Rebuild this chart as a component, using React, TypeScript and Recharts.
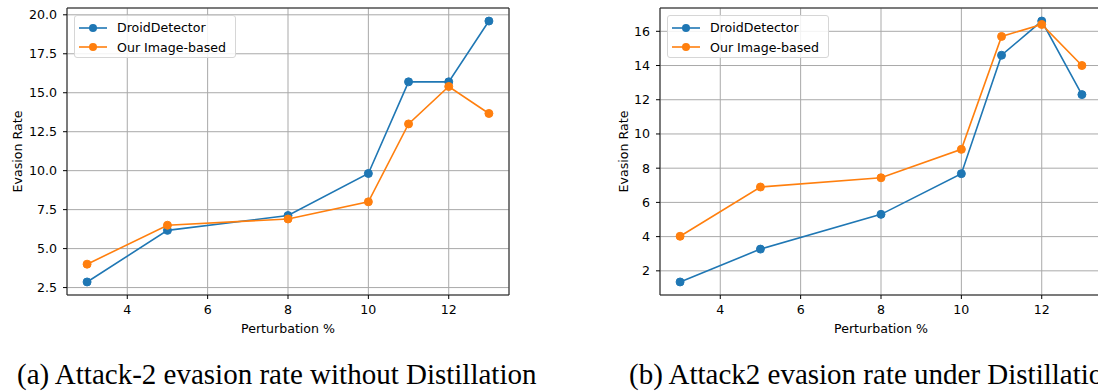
import React from 'react';
import { LineChart, Line, XAxis, YAxis, CartesianGrid, Legend, ReferenceArea, Label } from 'recharts';

// ---- data ----
const perturbation = [3, 5, 8, 10, 11, 12, 13];
const xTicks = [4, 6, 8, 10, 12];

const aDroid = [2.86, 6.17, 7.12, 9.82, 15.7, 15.7, 19.6];
const aOurs = [4.0, 6.5, 6.9, 8.0, 13.0, 15.4, 13.67];
const aYTicks = [2.5, 5.0, 7.5, 10.0, 12.5, 15.0, 17.5, 20.0];

const bDroid = [1.35, 3.27, 5.3, 7.68, 14.6, 16.6, 12.3];
const bOurs = [4.02, 6.9, 7.44, 9.1, 15.7, 16.4, 14.0];
const bYTicks = [2, 4, 6, 8, 10, 12, 14, 16];

const seriesNames = ['DroidDetector', 'Our Image-based'];
const colors = ['#1f77b4', '#ff7f0e'];
const captionA = '(a) Attack-2 evasion rate without Distillation';
const captionB = '(b) Attack2 evasion rate under Distillation';

const FONT = '"DejaVu Sans", sans-serif';
const FS = 12.6;

function padDomain(vals: number[]): [number, number] {
  const mn = Math.min(...vals);
  const mx = Math.max(...vals);
  const m = (mx - mn) * 0.05;
  return [mn - m, mx + m];
}

const LegendBox = (props: any) => {
  const payload = props.payload || [];
  return (
    <div
      style={{
        width: 162,
        height: 43,
        boxSizing: 'border-box',
        border: '1px solid #d6d6d6',
        borderRadius: 3,
        background: 'rgba(255,255,255,0.85)',
        paddingTop: 2,
        fontFamily: FONT,
        fontSize: FS,
        color: '#000',
      }}
    >
      {payload.map((e: any, i: number) => (
        <div key={i} style={{ display: 'flex', alignItems: 'center', height: 19.5, whiteSpace: 'nowrap' }}>
          <svg width={42} height={12} style={{ flex: 'none' }}>
            <line x1={4} x2={32} y1={6} y2={6} stroke={e.color} strokeWidth={1.6} />
            <circle cx={18} cy={6} r={4} fill={e.color} />
          </svg>
          <span>{e.value}</span>
        </div>
      ))}
    </div>
  );
};

type PanelProps = {
  left: number;
  droid: number[];
  ours: number[];
  yTicks: number[];
  yFmt: (v: number) => string;
  yLabelX: number;
};

const W = 530;
const H = 340;
const PLOT_TOP = 8;
const PLOT_BOTTOM = 295;
const YAXIS_W = 67;
const RIGHT_M = 21;

function Panel({ left, droid, ours, yTicks, yFmt, yLabelX }: PanelProps) {
  const data = perturbation.map((x, i) => ({ x, droid: droid[i], ours: ours[i] }));
  const xDomain = padDomain(perturbation);
  const yDomain = padDomain([...droid, ...ours]);
  const plotCx = YAXIS_W + (W - YAXIS_W - RIGHT_M) / 2;
  const plotCy = (PLOT_TOP + PLOT_BOTTOM) / 2;
  return (
    <div style={{ position: 'absolute', left, top: 0, width: W, height: H }}>
      <LineChart width={W} height={H} data={data} margin={{ top: PLOT_TOP, right: RIGHT_M, left: 0, bottom: 0 }}>
        <CartesianGrid stroke="#a9a9a9" strokeWidth={1} />
        <XAxis
          dataKey="x"
          type="number"
          domain={xDomain}
          ticks={xTicks}
          height={H - PLOT_BOTTOM}
          axisLine={false}
          tickLine={{ stroke: '#000' }}
          tickSize={4}
          tickMargin={6}
          tick={{ fill: '#000', fontFamily: FONT, fontSize: FS }}
          allowDataOverflow
        >
          <Label
            content={() => (
              <text x={plotCx} y={328} textAnchor="middle" dominantBaseline="central" fontFamily={FONT} fontSize={FS} fill="#000">
                Perturbation %
              </text>
            )}
          />
        </XAxis>
        <YAxis
          type="number"
          domain={yDomain}
          ticks={yTicks}
          width={YAXIS_W}
          axisLine={false}
          tickLine={{ stroke: '#000' }}
          tickSize={4}
          tickMargin={6}
          tickFormatter={yFmt}
          tick={{ fill: '#000', fontFamily: FONT, fontSize: FS }}
          allowDataOverflow
        >
          <Label
            content={() => (
              <text
                x={yLabelX}
                y={plotCy}
                textAnchor="middle"
                dominantBaseline="central"
                transform={`rotate(-90 ${yLabelX} ${plotCy})`}
                fontFamily={FONT}
                fontSize={FS}
                fill="#000"
              >
                Evasion Rate
              </text>
            )}
          />
        </YAxis>
        <Legend
          layout="vertical"
          align="center"
          verticalAlign="middle"
          width={162}
          height={43}
          wrapperStyle={{ left: YAXIS_W + 7, top: 15 }}
          content={<LegendBox />}
        />
        <Line
          type="linear"
          dataKey="droid"
          name={seriesNames[0]}
          stroke={colors[0]}
          strokeWidth={1.6}
          dot={{ r: 4, fill: colors[0], stroke: colors[0], strokeWidth: 1 }}
          activeDot={false}
          isAnimationActive={false}
        />
        <Line
          type="linear"
          dataKey="ours"
          name={seriesNames[1]}
          stroke={colors[1]}
          strokeWidth={1.6}
          dot={{ r: 4, fill: colors[1], stroke: colors[1], strokeWidth: 1 }}
          activeDot={false}
          isAnimationActive={false}
        />
        <ReferenceArea
          x1={xDomain[0]}
          x2={xDomain[1]}
          y1={yDomain[0]}
          y2={yDomain[1]}
          fill="none"
          fillOpacity={0}
          stroke="#222"
          strokeWidth={1}
          ifOverflow="visible"
        />
      </LineChart>
    </div>
  );
}

export default function App() {
  return (
    <div
      style={{
        position: 'fixed',
        left: 0,
        top: 0,
        width: 1098,
        height: 392,
        overflow: 'hidden',
        background: '#fff',
      }}
    >
      <Panel left={0} droid={aDroid} ours={aOurs} yTicks={aYTicks} yFmt={(v) => v.toFixed(1)} yLabelX={17} />
      <Panel left={593} droid={bDroid} ours={bOurs} yTicks={bYTicks} yFmt={(v) => String(v)} yLabelX={30} />
      <svg width={1098} height={52} style={{ position: 'absolute', left: 0, top: 340 }}>
        <text x={17} y={44} fontFamily='"Liberation Serif", "Times New Roman", serif' fontSize={29} fill="#000">
          {captionA}
        </text>
        <text x={629} y={44} fontFamily='"Liberation Serif", "Times New Roman", serif' fontSize={29} fill="#000">
          {captionB}
        </text>
      </svg>
    </div>
  );
}
